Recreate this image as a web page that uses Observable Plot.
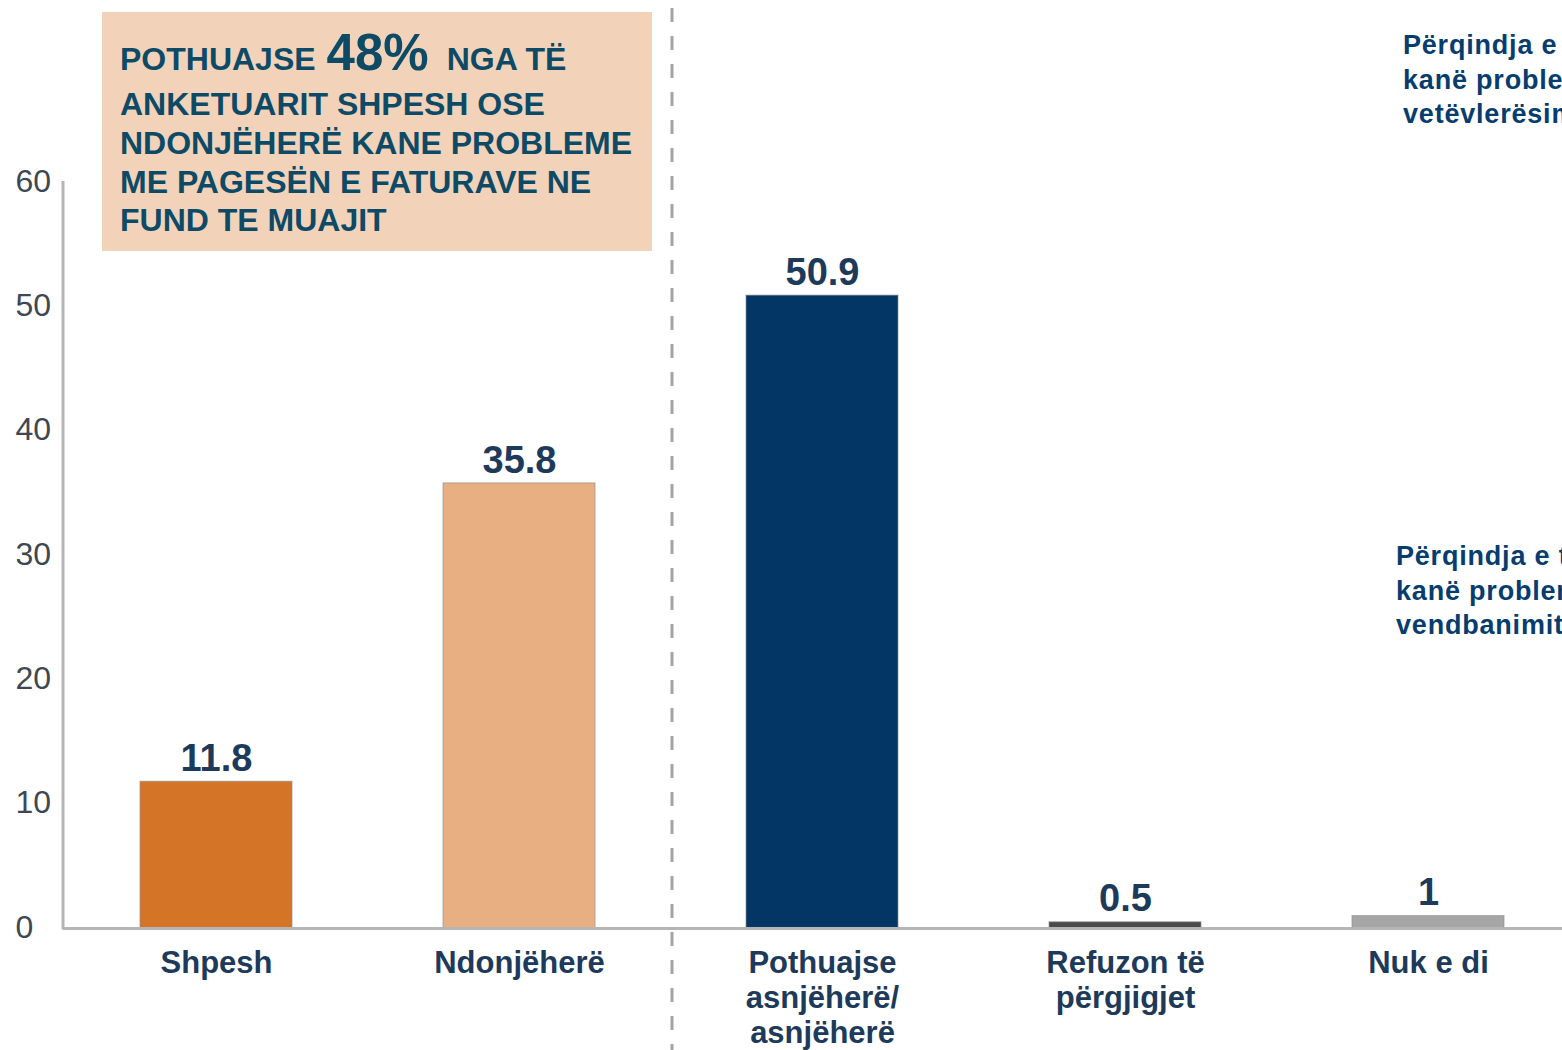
<!DOCTYPE html>
<html>
<head>
<meta charset="utf-8">
<script src="https://cdn.jsdelivr.net/npm/d3@7"></script>
<script src="https://cdn.jsdelivr.net/npm/@observablehq/plot@0.6"></script>
<style>
  html, body { margin: 0; padding: 0; background: #ffffff; overflow: hidden; }
  #wrap { position: relative; width: 1562px; height: 1050px; overflow: hidden; }
  #wrap > svg { position: absolute; left: 0; top: 0; max-width: none !important; }
  #overlay { position: absolute; left: 0; top: 0; pointer-events: none; }
</style>
</head>
<body>
<div id="wrap"></div>
<script>
// ---- data ----
const categories = ["Shpesh", "Ndonjëherë", "Pothuajse\nasnjëherë/\nasnjëherë", "Refuzon të\npërgjigjet", "Nuk e di"];
const values = [11.8, 35.8, 50.9, 0.5, 1];
const valueLabels = ["11.8", "35.8", "50.9", "0.5", "1"];
const barColors = ["#D37426", "#E8B082", "#043665", "#4A4A4A", "#A6A6A6"];
const yTicks = [0, 10, 20, 30, 40, 50, 60];
const calloutLines = ["ANKETUARIT SHPESH OSE", "NDONJËHERË KANE PROBLEME", "ME PAGESËN E FATURAVE NE", "FUND TE MUAJIT"];
const calloutFirst = ["POTHUAJSE", "48%", "NGA TË"];
const sideNote1 = ["Përqindja e të anketuarve që", "kanë probleme sipas", "vetëvlerësimit"];
const sideNote2 = ["Përqindja e të anketuarve që", "kanë probleme sipas", "vendbanimit"];

const data = categories.map((c, i) => ({cat: c, value: values[i], label: valueLabels[i], color: barColors[i]}));

const FONT = "'Liberation Sans', Arial, Helvetica, sans-serif";
const NAVY = "#1E3A5A";

const chart = Plot.plot({
  width: 1581,
  height: 1050,
  marginLeft: 63,
  marginRight: 0,
  marginTop: 182,
  marginBottom: 122,
  style: {fontFamily: FONT, background: "transparent", overflow: "visible"},
  x: {domain: categories, paddingInner: 0.5, paddingOuter: 0.25, axis: null},
  y: {domain: [0, 60], axis: null},
  color: {type: "identity"},
  marks: [
    Plot.barY(data, {x: "cat", y: "value", fill: "color", stroke: "#8c8c8c", strokeOpacity: 0.55, strokeWidth: 1.2}),
    Plot.ruleY([0], {stroke: "#b5b5b5", strokeWidth: 3}),
    (index, scales, values, dimensions) => {
      const g = d3.create("svg:g");
      const y = scales.y, x = scales.x;
      g.append("line")
        .attr("x1", dimensions.marginLeft).attr("x2", dimensions.marginLeft)
        .attr("y1", y(60) - 1).attr("y2", y(0) + 1.5)
        .attr("stroke", "#b5b5b5").attr("stroke-width", 3);
      const bw = x.bandwidth ? x.bandwidth() : 0;
      const xd = (x(categories[1]) + bw + x(categories[2])) / 2 + 1.5;
      g.append("line")
        .attr("x1", xd).attr("x2", xd)
        .attr("y1", 8).attr("y2", dimensions.height)
        .attr("stroke", "#a3a3a3").attr("stroke-width", 3)
        .attr("stroke-dasharray", "14,14");
      return g.node();
    },
    Plot.text(data, {x: "cat", y: "value", text: "label", lineAnchor: "middle", dy: -23,
      fontSize: 38, fontWeight: "bold", fill: NAVY}),
    Plot.text(data, {x: "cat", text: "cat", frameAnchor: "bottom", lineAnchor: "top", dy: 19,
      fontSize: 31, fontWeight: "bold", lineHeight: 1.14, fill: NAVY}),
    Plot.text(yTicks, {y: d => d, text: d => String(d), frameAnchor: "left", textAnchor: "start", dx: -48,
      dy: -1, fontSize: 32, fill: "#3f4852"})
  ]
});
chart.style.maxWidth = "none";
chart.style.height = "1050px";

const wrap = document.getElementById("wrap");
wrap.appendChild(chart);

// ---- annotations overlay ----
const ov = d3.select(wrap).append("svg")
  .attr("id", "overlay")
  .attr("width", 1562).attr("height", 1050)
  .style("font-family", FONT);

ov.append("rect").attr("x", 102).attr("y", 12).attr("width", 550).attr("height", 239).attr("fill", "#F2D3BA");

const TEAL = "#0D4A66";
const t1 = ov.append("text").attr("x", 120).attr("y", 70).attr("fill", TEAL).attr("font-weight", "bold").attr("font-size", 32);
t1.append("tspan").text(calloutFirst[0]);
t1.append("tspan").attr("dx", 11).attr("font-size", 51).text(calloutFirst[1]);
t1.append("tspan").attr("dx", 18).text(calloutFirst[2]);
const baselines = [115, 153.5, 192.5, 230.5];
calloutLines.forEach((s, i) => {
  ov.append("text").attr("x", 120).attr("y", baselines[i]).attr("fill", TEAL)
    .attr("font-weight", "bold").attr("font-size", 32).text(s);
});

const SIDE = "#063D6E";
sideNote1.forEach((s, i) => {
  ov.append("text").attr("x", 1403).attr("y", 54 + i * 34.5).attr("fill", SIDE)
    .attr("font-weight", "bold").attr("font-size", 27).attr("letter-spacing", 0.8).text(s);
});
sideNote2.forEach((s, i) => {
  ov.append("text").attr("x", 1396).attr("y", 565 + i * 34.5).attr("fill", SIDE)
    .attr("font-weight", "bold").attr("font-size", 27).attr("letter-spacing", 0.8).text(s);
});
</script>
</body>
</html>
